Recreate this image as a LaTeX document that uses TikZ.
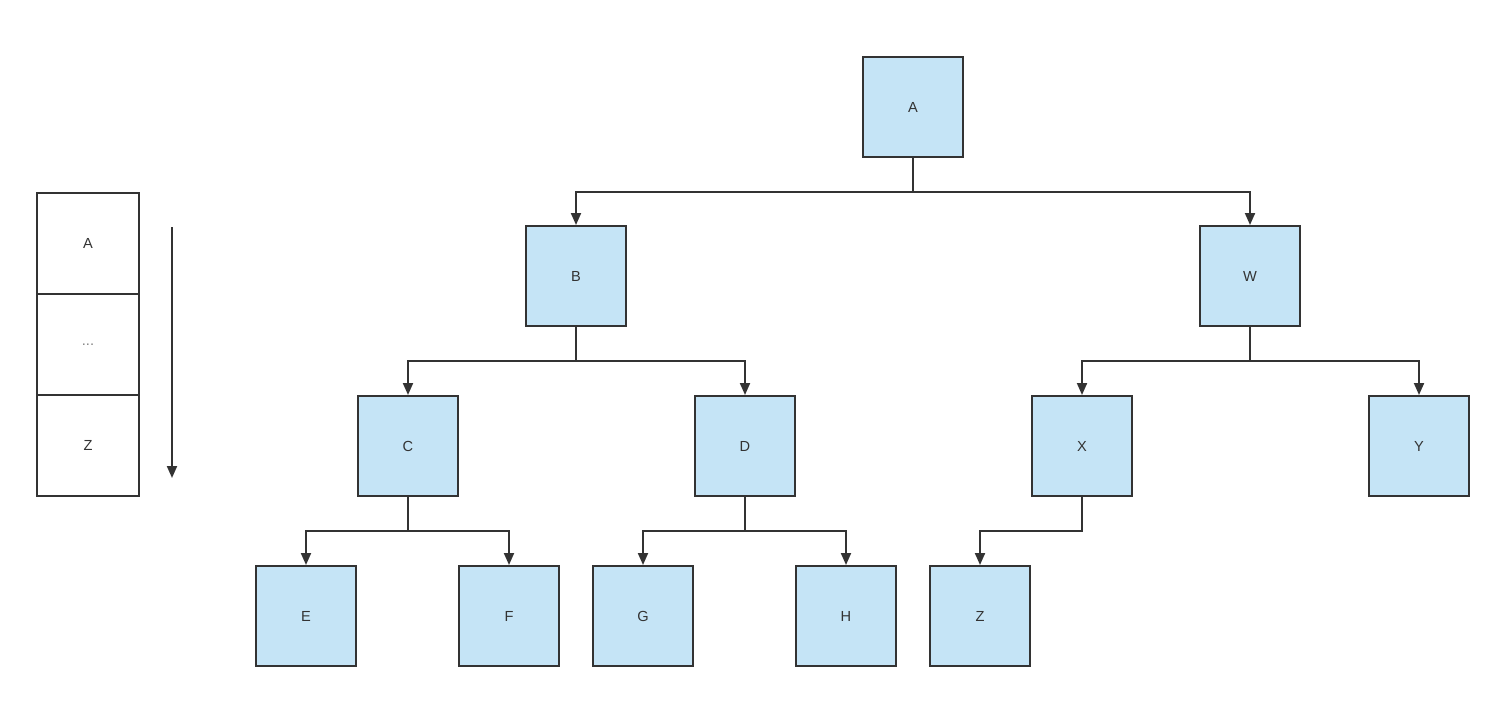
\documentclass[tikz,border=0pt]{standalone}
\usepackage{fontspec}
\setmainfont{Liberation Sans}
\usetikzlibrary{arrows.meta}
\definecolor{boxfill}{HTML}{C5E4F6}
\definecolor{boxline}{HTML}{333333}
\definecolor{txt}{HTML}{333333}
\begin{document}
\begin{tikzpicture}[x=0.5pt,y=-0.5pt,
  tree/.style={draw=boxline,fill=boxfill,line width=1pt,minimum width=50pt,minimum height=50pt,inner sep=0pt,text=txt,font=\fontsize{7.3}{8}\selectfont},
  stackbox/.style={draw=boxline,fill=white,line width=1pt,minimum width=51pt,minimum height=50.5pt,inner sep=0pt,text=txt,font=\fontsize{7.3}{8}\selectfont},
  conn/.style={draw=boxline,line width=1pt},
  arr/.style={conn,-{Triangle[length=6pt,width=5pt]}}]
\useasboundingbox (0,0) rectangle (1504,722);
% tree nodes
\node[tree] (A) at (913,107) {A};
\node[tree] (B) at (576,276) {B};
\node[tree] (W) at (1250,276) {W};
\node[tree] (C) at (408,446) {C};
\node[tree] (D) at (745,446) {D};
\node[tree] (X) at (1082,446) {X};
\node[tree] (Y) at (1419,446) {Y};
\node[tree] (E) at (306,616) {E};
\node[tree] (F) at (509,616) {F};
\node[tree] (G) at (643,616) {G};
\node[tree] (H) at (846,616) {H};
\node[tree] (Z) at (980,616) {Z};
% connectors
\draw[arr] (A.south) -- ++(0,34) -| (B.north);
\draw[arr] (A.south) -- ++(0,34) -| (W.north);
\draw[arr] (B.south) -- ++(0,34) -| (C.north);
\draw[arr] (B.south) -- ++(0,34) -| (D.north);
\draw[arr] (W.south) -- ++(0,34) -| (X.north);
\draw[arr] (W.south) -- ++(0,34) -| (Y.north);
\draw[arr] (C.south) -- ++(0,34) -| (E.north);
\draw[arr] (C.south) -- ++(0,34) -| (F.north);
\draw[arr] (D.south) -- ++(0,34) -| (G.north);
\draw[arr] (D.south) -- ++(0,34) -| (H.north);
\draw[arr] (X.south) -- ++(0,34) -| (Z.north);
% stack
\node[stackbox] (s1) at (88,243.5) {A};
\node[stackbox] (s2) at (88,344.5) {\textcolor{gray}{...}};
\node[stackbox] (s3) at (88,445.5) {Z};
\coordinate (t1) at (172,227);
\coordinate (t2) at (172,478);
\draw[arr] (t1) -- (t2);
\end{tikzpicture}
\end{document}
